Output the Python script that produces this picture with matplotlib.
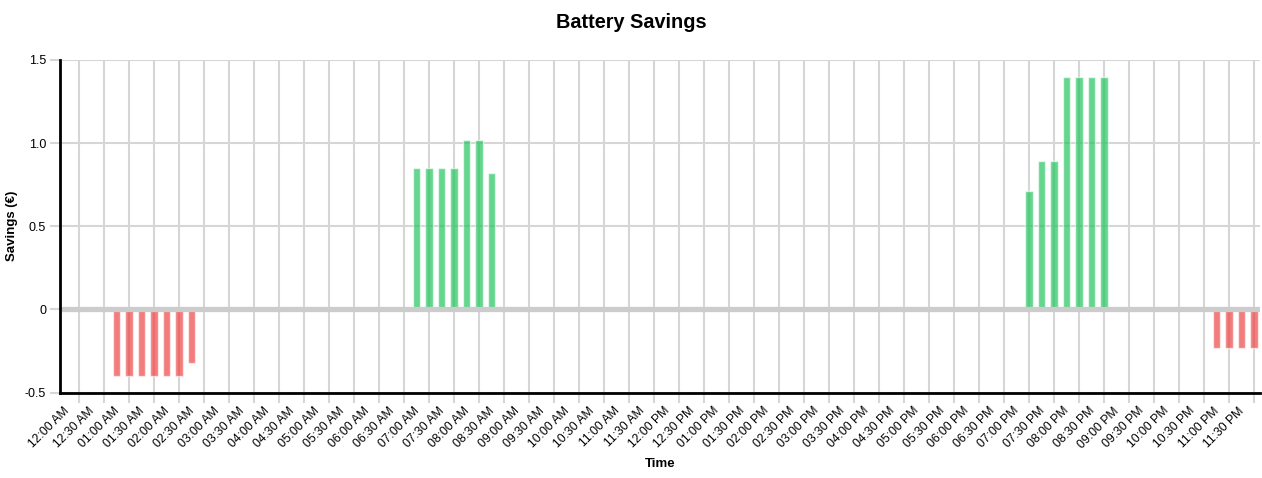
import matplotlib.pyplot as plt
import matplotlib.transforms as mtransforms
from matplotlib.ticker import FixedLocator

plt.rcParams['font.family'] = ['Liberation Sans', 'DejaVu Sans']

# 15-minute slots over one day (minutes since midnight), 96 values
slot_minutes = [
    0, 15, 30, 45, 60, 75, 90, 105,
    120, 135, 150, 165, 180, 195, 210, 225,
    240, 255, 270, 285, 300, 315, 330, 345,
    360, 375, 390, 405, 420, 435, 450, 465,
    480, 495, 510, 525, 540, 555, 570, 585,
    600, 615, 630, 645, 660, 675, 690, 705,
    720, 735, 750, 765, 780, 795, 810, 825,
    840, 855, 870, 885, 900, 915, 930, 945,
    960, 975, 990, 1005, 1020, 1035, 1050, 1065,
    1080, 1095, 1110, 1125, 1140, 1155, 1170, 1185,
    1200, 1215, 1230, 1245, 1260, 1275, 1290, 1305,
    1320, 1335, 1350, 1365, 1380, 1395, 1410, 1425,
]
savings = [
    0, 0, 0, 0, -0.40, -0.40, -0.40, -0.40,
    -0.40, -0.40, -0.32, 0, 0, 0, 0, 0,
    0, 0, 0, 0, 0, 0, 0, 0,
    0, 0, 0, 0, 0.85, 0.85, 0.85, 0.85,
    1.02, 1.02, 0.82, 0, 0, 0, 0, 0,
    0, 0, 0, 0, 0, 0, 0, 0,
    0, 0, 0, 0, 0, 0, 0, 0,
    0, 0, 0, 0, 0, 0, 0, 0,
    0, 0, 0, 0, 0, 0, 0, 0,
    0, 0, 0, 0, 0, 0.71, 0.89, 0.89,
    1.40, 1.40, 1.40, 1.40, 0, 0, 0, 0,
    0, 0, 0, 0, -0.23, -0.23, -0.23, -0.23,
]

# labelled ticks every 30 minutes
tick_minutes = slot_minutes[::2]
tick_labels = [
    '12:00 AM', '12:30 AM', '01:00 AM', '01:30 AM', '02:00 AM', '02:30 AM',
    '03:00 AM', '03:30 AM', '04:00 AM', '04:30 AM', '05:00 AM', '05:30 AM',
    '06:00 AM', '06:30 AM', '07:00 AM', '07:30 AM', '08:00 AM', '08:30 AM',
    '09:00 AM', '09:30 AM', '10:00 AM', '10:30 AM', '11:00 AM', '11:30 AM',
    '12:00 PM', '12:30 PM', '01:00 PM', '01:30 PM', '02:00 PM', '02:30 PM',
    '03:00 PM', '03:30 PM', '04:00 PM', '04:30 PM', '05:00 PM', '05:30 PM',
    '06:00 PM', '06:30 PM', '07:00 PM', '07:30 PM', '08:00 PM', '08:30 PM',
    '09:00 PM', '09:30 PM', '10:00 PM', '10:30 PM', '11:00 PM', '11:30 PM',
]
# grid lines sit between the labelled ticks
grid_minutes = slot_minutes[1::2]

y_ticks = [-0.5, 0, 0.5, 1.0, 1.5]
y_labels = ['-0.5', '0', '0.5', '1.0', '1.5']

green = (34/255, 197/255, 94/255, 0.7)
red = (239/255, 68/255, 68/255, 0.7)

fig = plt.figure(figsize=(12.62, 4.78), dpi=100)
ax = fig.add_axes([60/1262, 1 - 392.5/478, 1200/1262, 332.5/478])

xs = [m for m, v in zip(slot_minutes, savings) if v != 0]
vs = [v for v in savings if v != 0]
colors = [green if v > 0 else red for v in vs]
ax.bar(xs, vs, width=9, color=colors, edgecolor=(1, 1, 1, 0.6),
       linewidth=1, zorder=3)

ax.axhline(0, color='#cccccc', lw=3.8, zorder=4)

ax.set_xlim(-7.5, 1432.5)
ax.set_ylim(-0.5, 1.5)

ax.set_xticks(tick_minutes)
ax.set_xticklabels(tick_labels, rotation=45, ha='right',
                   rotation_mode='anchor', fontsize=8.8)
ax.tick_params(axis='x', which='major', length=0, pad=9)
shift = mtransforms.ScaledTranslation(-3/100, 0, fig.dpi_scale_trans)
for lbl in ax.get_xticklabels():
    lbl.set_transform(lbl.get_transform() + shift)
ax.xaxis.set_minor_locator(FixedLocator(grid_minutes))
ax.tick_params(axis='x', which='minor', length=7, color='#d6d6d6', width=1.5)
ax.grid(True, axis='x', which='minor', color='#d6d6d6', lw=1.5, zorder=1)

ax.set_yticks(y_ticks)
ax.set_yticklabels(y_labels, fontsize=9)
ax.tick_params(axis='y', length=7, color='#d6d6d6', width=1.5, pad=3)
ax.grid(True, axis='y', color='#d6d6d6', lw=1.5, zorder=1)
ax.set_axisbelow(True)

for s in ['top', 'right']:
    ax.spines[s].set_visible(False)
for s in ['left', 'bottom']:
    ax.spines[s].set_color('black')
    ax.spines[s].set_linewidth(2)
    ax.spines[s].set_zorder(5)

fig.text(631/1262, 1 - 23/478, 'Battery Savings', ha='center', va='center',
         fontsize=14.3, fontweight='bold')
fig.text(660/1262, 1 - 464/478, 'Time', ha='center', va='center',
         fontsize=9.5, fontweight='bold')
fig.text(12/1262, 1 - 226/478, 'Savings (€)', ha='center', va='center',
         rotation=90, fontsize=9.5, fontweight='bold')

fig.savefig('out.png', dpi=100)
